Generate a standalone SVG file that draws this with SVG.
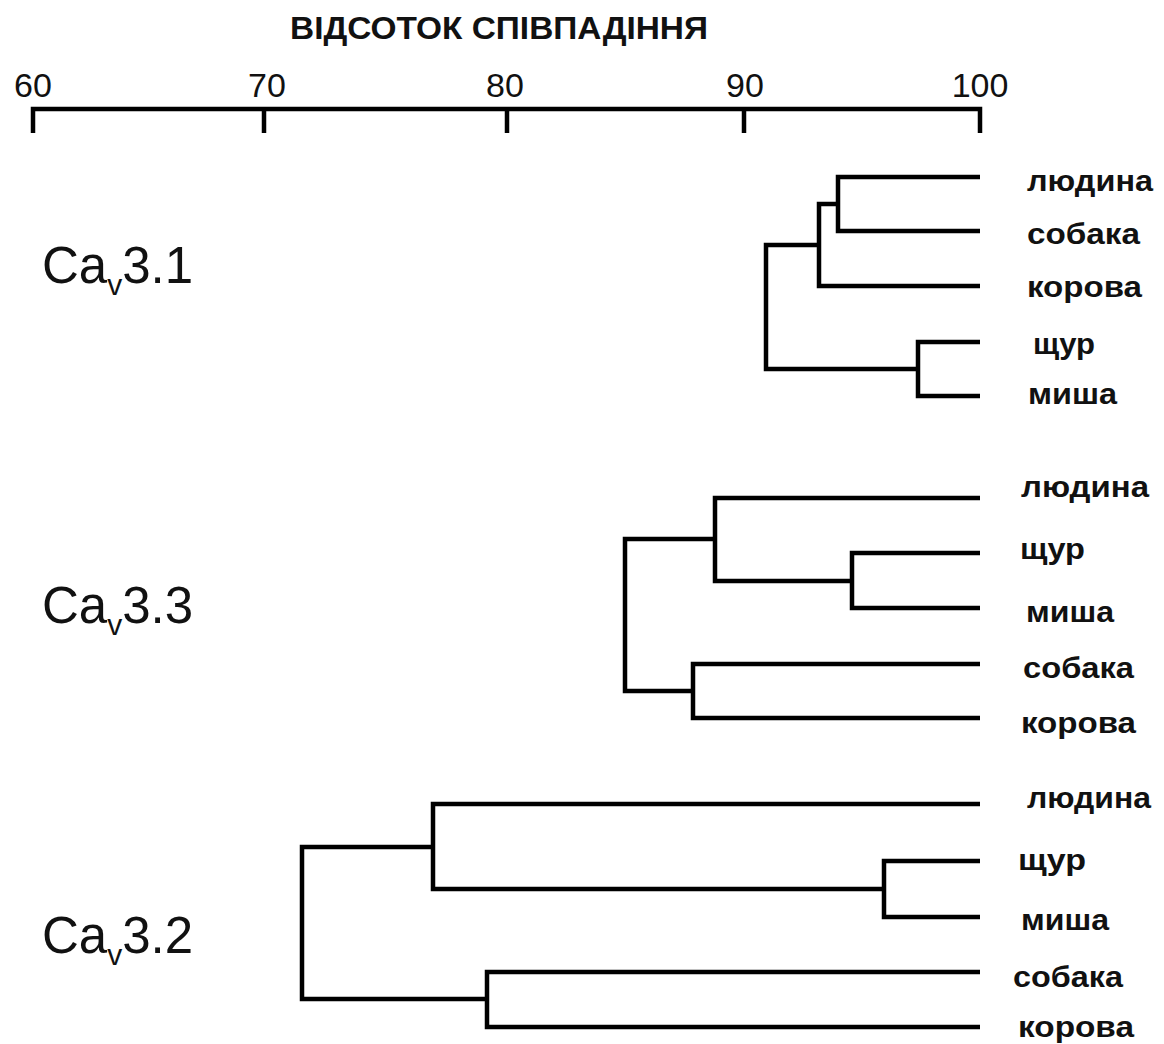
<svg xmlns="http://www.w3.org/2000/svg" width="1164" height="1044" viewBox="0 0 1164 1044">
<style>
.ax{stroke:#000;stroke-width:4.5;fill:none}
.tr{stroke:#000;stroke-width:4.5;fill:none;stroke-linejoin:miter;stroke-linecap:butt}
.num{font-family:"Liberation Sans",Arial,sans-serif;font-size:34px;fill:#111;text-anchor:middle}
.title{font-family:"Liberation Sans",Arial,sans-serif;font-size:32px;font-weight:bold;fill:#111}
.lf{font-family:"Liberation Sans",Arial,sans-serif;font-size:29px;font-weight:bold;fill:#111}
.grp{font-family:"Liberation Sans",Arial,sans-serif;font-size:51px;fill:#111}
</style>
<rect width="1164" height="1044" fill="#fff"/>
<g id="axis">
<text class="title" x="290" y="39" textLength="418" lengthAdjust="spacingAndGlyphs">ВІДСОТОК СПІВПАДІННЯ</text>
<path class="ax" d="M33,133 V109 H980 V133 M264,109 V133 M507,109 V133 M744,109 V133"/>
<text class="num" x="33" y="97">60</text>
<text class="num" x="267" y="97">70</text>
<text class="num" x="505" y="97">80</text>
<text class="num" x="745" y="97">90</text>
<text class="num" x="980" y="97">100</text>
</g>
<g id="group-cav31"><text class="grp" x="42" y="283">Ca<tspan font-size="30" dy="12">v</tspan><tspan dy="-12">3.1</tspan></text></g>
<g id="group-cav33"><text class="grp" x="42" y="623">Ca<tspan font-size="30" dy="12">v</tspan><tspan dy="-12">3.3</tspan></text></g>
<g id="group-cav32"><text class="grp" x="42" y="953">Ca<tspan font-size="30" dy="12">v</tspan><tspan dy="-12">3.2</tspan></text></g>
<g id="connectors">
<path class="tr" d="M980,177 H838 V231 H980"/>
<path class="tr" d="M838,204 H819 V286 H980"/>
<path class="tr" d="M980,342 H918 V396 H980"/>
<path class="tr" d="M819,245 H766 V369 H918"/>
<path class="tr" d="M980,553 H852 V608 H980"/>
<path class="tr" d="M980,498 H715 V581 H852"/>
<path class="tr" d="M980,664 H693 V718 H980"/>
<path class="tr" d="M715,539 H625 V691 H693"/>
<path class="tr" d="M980,861 H884 V917 H980"/>
<path class="tr" d="M980,804 H433 V889 H884"/>
<path class="tr" d="M980,972 H487 V1027 H980"/>
<path class="tr" d="M433,847 H302 V999 H487"/>
</g>
<g id="leaf-31-human"><text class="lf" x="1027" y="191" textLength="126" lengthAdjust="spacingAndGlyphs">людина</text></g>
<g id="leaf-31-dog"><text class="lf" x="1027" y="244" textLength="113" lengthAdjust="spacingAndGlyphs">собака</text></g>
<g id="leaf-31-cow"><text class="lf" x="1027" y="297" textLength="115" lengthAdjust="spacingAndGlyphs">корова</text></g>
<g id="leaf-31-rat"><text class="lf" x="1033" y="354" textLength="62" lengthAdjust="spacingAndGlyphs">щур</text></g>
<g id="leaf-31-mouse"><text class="lf" x="1028" y="404" textLength="89" lengthAdjust="spacingAndGlyphs">миша</text></g>
<g id="leaf-33-human"><text class="lf" x="1021" y="497" textLength="128" lengthAdjust="spacingAndGlyphs">людина</text></g>
<g id="leaf-33-rat"><text class="lf" x="1020" y="559" textLength="65" lengthAdjust="spacingAndGlyphs">щур</text></g>
<g id="leaf-33-mouse"><text class="lf" x="1026" y="622" textLength="88" lengthAdjust="spacingAndGlyphs">миша</text></g>
<g id="leaf-33-dog"><text class="lf" x="1023" y="678" textLength="111" lengthAdjust="spacingAndGlyphs">собака</text></g>
<g id="leaf-33-cow"><text class="lf" x="1021" y="733" textLength="115" lengthAdjust="spacingAndGlyphs">корова</text></g>
<g id="leaf-32-human"><text class="lf" x="1027" y="808" textLength="124" lengthAdjust="spacingAndGlyphs">людина</text></g>
<g id="leaf-32-rat"><text class="lf" x="1018" y="870" textLength="68" lengthAdjust="spacingAndGlyphs">щур</text></g>
<g id="leaf-32-mouse"><text class="lf" x="1021" y="930" textLength="88" lengthAdjust="spacingAndGlyphs">миша</text></g>
<g id="leaf-32-dog"><text class="lf" x="1013" y="987" textLength="110" lengthAdjust="spacingAndGlyphs">собака</text></g>
<g id="leaf-32-cow"><text class="lf" x="1018" y="1037" textLength="116" lengthAdjust="spacingAndGlyphs">корова</text></g>
</svg>
